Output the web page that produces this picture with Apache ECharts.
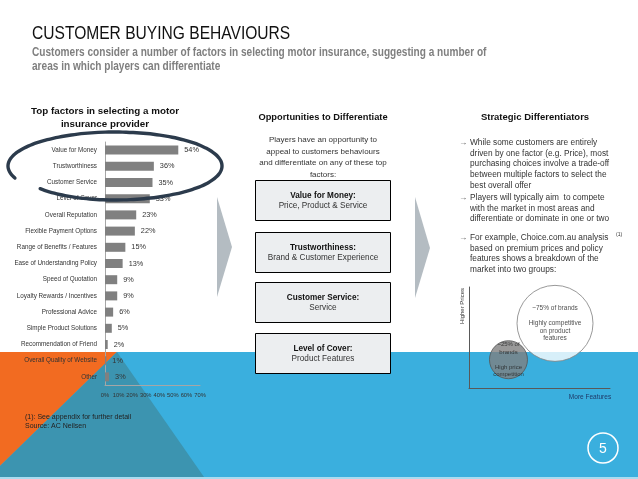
<!DOCTYPE html>
<html><head><meta charset="utf-8">
<script src="https://cdn.jsdelivr.net/npm/echarts@6/dist/echarts.min.js"></script>
<style>html,body{margin:0;padding:0;background:#fff}#c{width:638px;height:479px}</style>
</head><body><div id="c"></div>
<script>
// ---- data ----
const factors = ['Value for Money','Trustworthiness','Customer Service','Level of Cover','Overall Reputation','Flexible Payment Options','Range of Benefits / Features','Ease of Understanding Policy','Speed of Quotation','Loyalty Rewards / Incentives','Professional Advice','Simple Product Solutions','Recommendation of Friend','Overall Quality of Website','Other'];
const shares = [54,36,35,33,23,22,15,13,9,9,6,5,2,1,3];
const xTicks = [0,10,20,30,40,50,60,70];
const bubbleX = [61,28];
const bubbleY = [64,28];
const bubbleSize = [76,38];
const bubbleLabels = ['~75% of brands\n\nHighly competitive\non product\nfeatures','~25% of\nbrands\n\nHigh price\ncompetition'];
const boxTitles = ['Value for Money:','Trustworthiness:','Customer Service:','Level of Cover:'];
const boxSubs = ['Price, Product & Service','Brand & Customer Experience','Service','Product Features'];

const F = 'Liberation Sans, Arial, sans-serif';
function T(text, x, y, o){o=o||{};return {type:'text',z:o.z||5,x:x,y:y,scaleX:o.sx||1,rotation:o.rot||0,
  style:{text:text,x:0,y:0,fontSize:o.size||8,fontWeight:o.bold?'bold':'normal',fontFamily:o.family||F,fill:o.color||'#333',align:o.align||'left',verticalAlign:'middle'}};}

const g = [];
// background shapes
g.push({type:'rect',z:-10,shape:{x:0,y:352,width:638,height:127},style:{fill:'#3AAFDE'}});
g.push({type:'rect',z:-10,shape:{x:0,y:477,width:638,height:2},style:{fill:'#A9DCF0'}});
g.push({type:'polygon',z:-9,shape:{points:[[0,352],[117,352],[0,466]]},style:{fill:'#F26B21'}});
g.push({type:'polygon',z:-9,shape:{points:[[117,352],[204,477],[0,477],[0,466]]},style:{fill:'#3C94B0'}});
// chevrons
g.push({type:'polygon',z:-8,shape:{points:[[217,197],[232,247],[217,297]]},style:{fill:'#B4BCC2'}});
g.push({type:'polygon',z:-8,shape:{points:[[415,197],[430,248],[415,298]]},style:{fill:'#B4BCC2'}});
// header
g.push(T('CUSTOMER BUYING BEHAVIOURS',32,34,{size:19,sx:0.82,color:'#111'}));
g.push(T('Customers consider a number of factors in selecting motor insurance, suggesting a number of',32,53,{size:12.3,sx:0.82,bold:true,color:'#7F7F7F'}));
g.push(T('areas in which players can differentiate',32,67,{size:12.3,sx:0.82,bold:true,color:'#7F7F7F'}));
// left title
g.push(T('Top factors in selecting a motor',105,111,{size:9.8,bold:true,color:'#111',align:'center'}));
g.push(T('insurance provider',105,124,{size:9.8,bold:true,color:'#111',align:'center'}));
// footnotes
g.push(T('(1): See appendix for further detail',25,417,{size:7,color:'#222'}));
g.push(T('Source: AC Neilsen',25,426,{size:7,color:'#222'}));
// middle
g.push(T('Opportunities to Differentiate',323,117,{size:9.3,bold:true,color:'#111',align:'center'}));
['Players have an opportunity to','appeal to customers behaviours','and differentiate on any of these top','factors:'].forEach((s,i)=>g.push(T(s,323,140+i*11.6,{size:8,align:'center'})));
const boxTops=[180,232,282,333];
boxTops.forEach((t,i)=>{
  g.push({type:'rect',z:1,shape:{x:255.5,y:t+0.5,width:135,height:40},style:{fill:'#ECEEF0',stroke:'#000',lineWidth:1}});
  g.push(T(boxTitles[i],323,t+16,{size:8.2,bold:true,color:'#111',align:'center'}));
  g.push(T(boxSubs[i],323,t+26,{size:8.2,color:'#333',align:'center'}));
});
// right
g.push(T('Strategic Differentiators',535,117,{size:9.5,bold:true,color:'#111',align:'center'}));
const bullets=[[143,['While some customers are entirely','driven by one factor (e.g. Price), most','purchasing choices involve a trade-off','between multiple factors to select the','best overall offer']],
[198,['Players will typically aim  to compete','with the market in most areas and','differentiate or dominate in one or two']],
[238,['For example, Choice.com.au analysis','based on premium prices and policy','features shows a breakdown of the','market into two groups:']]];
bullets.forEach(b=>{
  g.push(T('\u2192',459,b[0],{size:8.3,color:'#555'}));
  b[1].forEach((s,i)=>g.push(T(s,470,b[0]+i*10.6,{size:8.3})));
});
g.push(T('(1)',616,235,{size:5,color:'#333'}));
g.push(T('Higher Prices',462,306,{size:6,color:'#333',align:'center',rot:Math.PI/2}));
g.push(T('More Features',590,397,{size:6.5,color:'#1F3A68',align:'center'}));
// open brush-stroke ellipse highlight
(function(){
  const cx=115, cy=166, rx=107, ry=34, pts=[];
  const a0=2.78, a1=2.41+2*Math.PI, n=90;
  for(let k=0;k<=n;k++){const a=a0+(a1-a0)*k/n;const s=1-0.06*Math.max(0,(k/n-0.75)/0.25);pts.push([cx+rx*Math.cos(a)*s, cy+ry*Math.sin(a)]);}
  g.push({type:'polyline',z:50,shape:{points:pts,smooth:0.3},style:{fill:null,stroke:'#2C3B4C',lineWidth:3.4,lineCap:'round'}});
})();
// page number
g.push({type:'circle',z:5,shape:{cx:603,cy:448,r:15},style:{fill:null,stroke:'#fff',lineWidth:1.5}});
g.push(T('5',603,449,{size:14,color:'#fff',align:'center'}));

const chart = echarts.init(document.getElementById('c'));
chart.setOption({
  animation:false,
  backgroundColor:'#fff',
  graphic:{elements:g},
  grid:[{left:105,top:142,width:95,height:243},{left:469,top:287,width:141,height:101}],
  xAxis:[{type:'value',gridIndex:0,min:xTicks[0],max:xTicks[xTicks.length-1],interval:10,
    axisLine:{show:true,lineStyle:{color:'#A6A6A6'}},axisTick:{show:false},splitLine:{show:false},
    axisLabel:{formatter:'{value}%',fontSize:5.8,color:'#333',margin:7,fontFamily:F}},
    {type:'value',gridIndex:1,min:0,max:100,axisLine:{show:true,onZero:false,lineStyle:{color:'#595959'}},axisTick:{show:false},splitLine:{show:false},axisLabel:{show:false}}],
  yAxis:[{type:'category',gridIndex:0,data:factors,inverse:true,
    axisLine:{show:true,lineStyle:{color:'#A6A6A6'}},axisTick:{show:false},
    axisLabel:{fontSize:6.3,color:'#333',margin:8,fontFamily:F,interval:0}},
    {type:'value',gridIndex:1,min:0,max:100,axisLine:{show:true,onZero:false,lineStyle:{color:'#595959'}},axisTick:{show:false},splitLine:{show:false},axisLabel:{show:false}}],
  series:[
    {type:'bar',xAxisIndex:0,yAxisIndex:0,data:shares,barWidth:9,itemStyle:{color:'#808080'},
     label:{show:true,position:'right',distance:6,formatter:'{c}%',fontSize:7.3,color:'#333',fontFamily:F}},
    {type:'scatter',xAxisIndex:1,yAxisIndex:1,
     data:bubbleX.map((x,i)=>({value:[x,bubbleY[i]],symbolSize:bubbleSize[i],
        itemStyle:i===0?{color:'#fff',borderColor:'#7F7F7F',borderWidth:1}:{color:'#7F7F7F',borderColor:'#555',borderWidth:1},
        label:{show:true,formatter:bubbleLabels[i],position:'inside',fontSize:i===0?6.5:6,lineHeight:7.5,color:'#222',fontFamily:F}})),
     emphasis:{disabled:true}}
  ]
});
</script></body></html>
